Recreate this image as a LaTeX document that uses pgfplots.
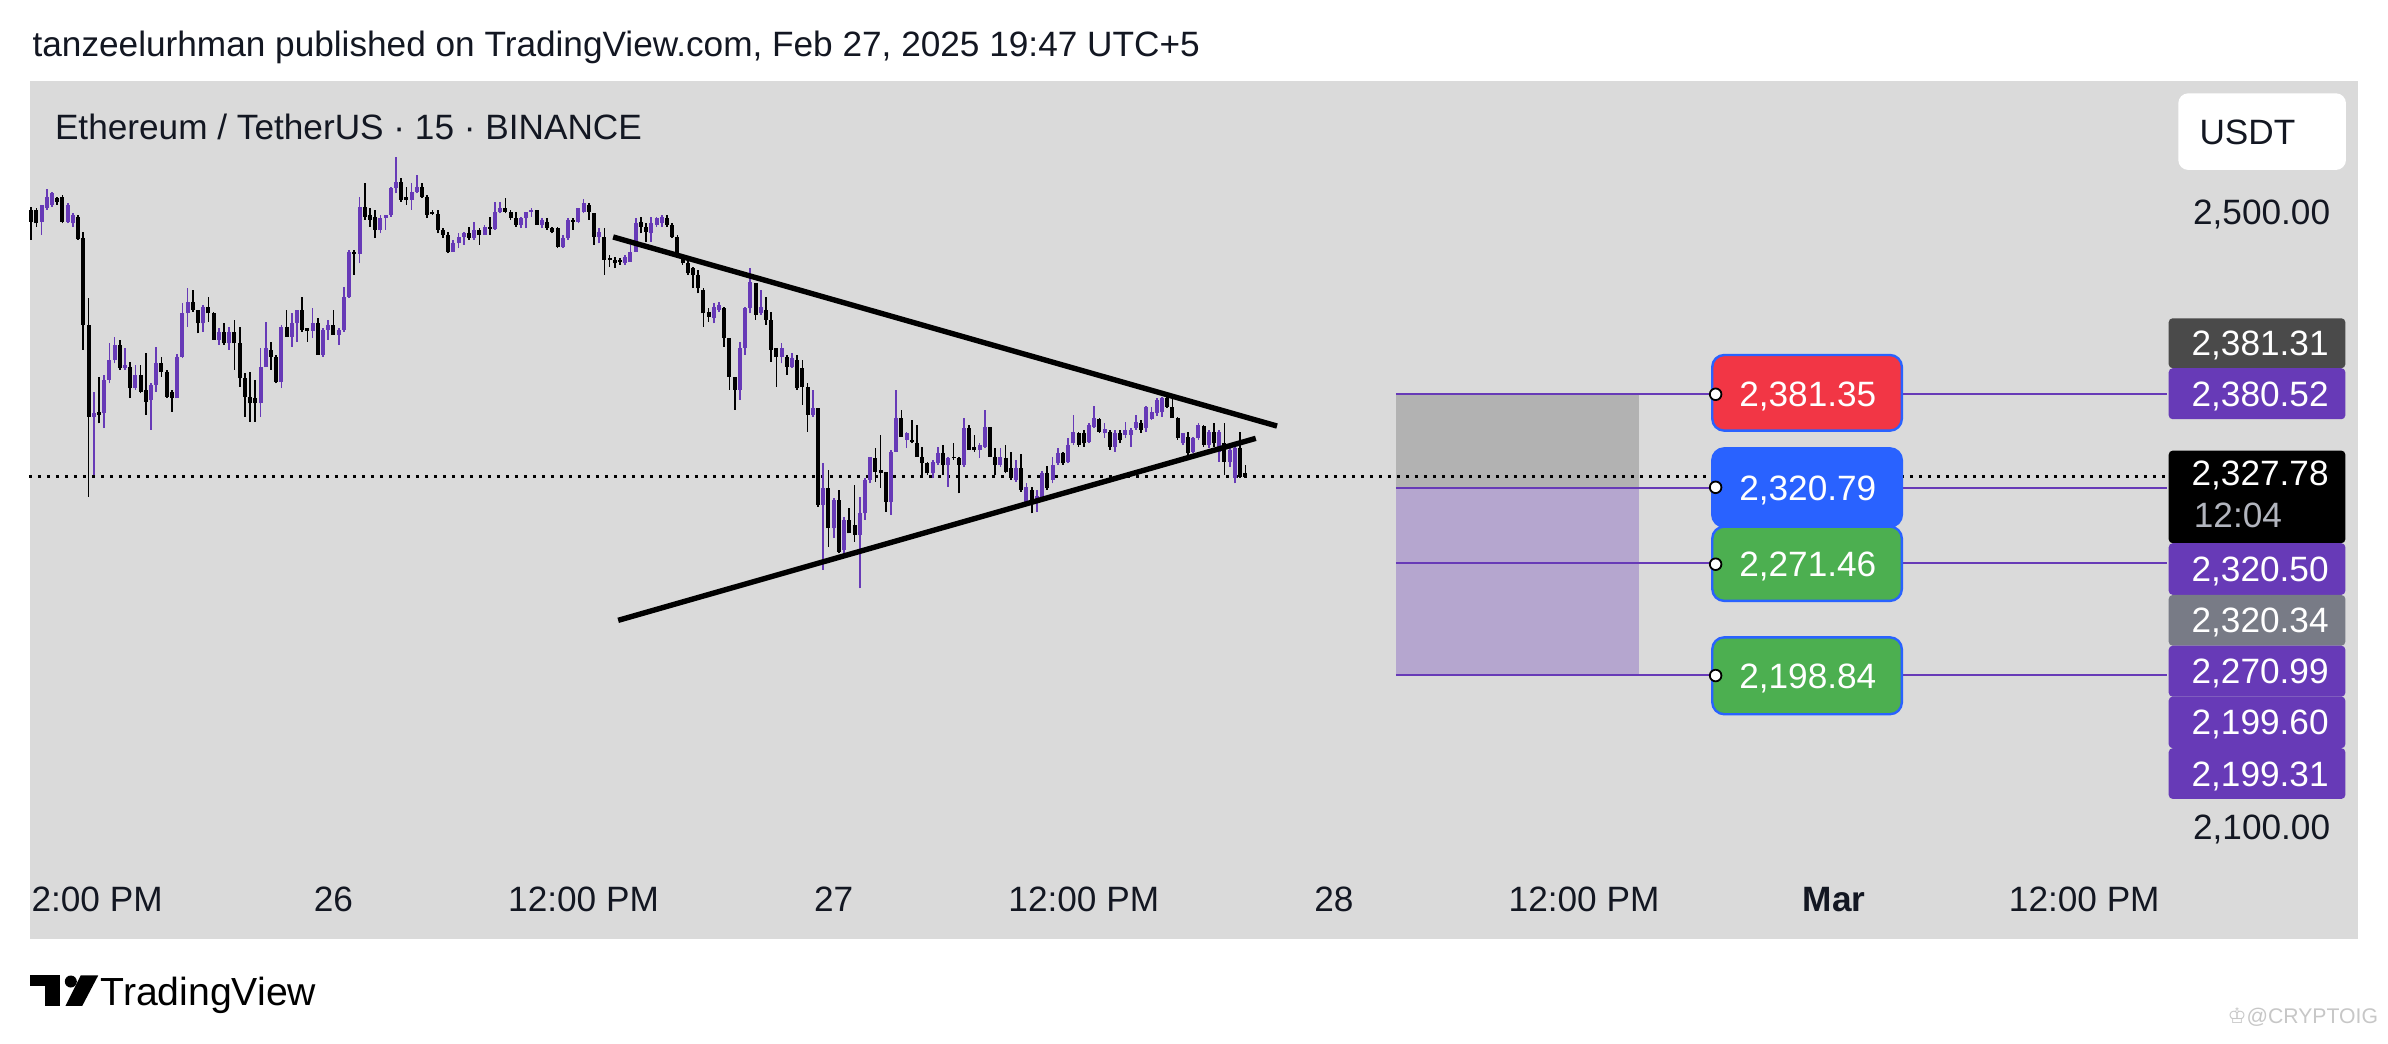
\documentclass[border=0pt]{standalone}
\usepackage{pgfplots}
\usepackage{pgfplotstable}
\pgfplotsset{compat=1.18}
\usepackage{fontspec}
\setmainfont{Liberation Sans}
\newfontfamily\symfont{DejaVu Sans}
\definecolor{panel}{HTML}{DADADA}
\definecolor{candp}{HTML}{673AB7}
\definecolor{tvtext}{HTML}{131722}
\definecolor{tvred}{HTML}{F23645}
\definecolor{tvblue}{HTML}{2962FF}
\definecolor{tvgreen}{HTML}{4CAF50}
\definecolor{rectgray}{HTML}{B2B2B2}
\definecolor{rectpurp}{HTML}{B5A6CF}
\definecolor{lblgray}{HTML}{4A4A4A}
\definecolor{lblgray2}{HTML}{787B86}
\definecolor{timegray}{HTML}{B2B5BE}
\newcommand\lf{\fontsize{8.8}{10}\selectfont}

% up (purple) candles: x = hours from Feb 26 00:00
\pgfplotstableread{
x o h l c
-14.0 2493.7 2504.5 2485.0 2504.5
-13.75 2502.4 2514.7 2501.3 2510.0
-13.5 2504.5 2513.2 2503.5 2512.1
-12.75 2493.7 2505.6 2492.6 2504.5
-12.5 2492.6 2499.1 2490.5 2498.0
-11.5 2366.9 2383.2 2329.0 2369.1
-11.0 2369.1 2394.0 2359.4 2390.8
-10.75 2390.8 2414.6 2388.6 2403.8
-10.5 2403.8 2418.9 2401.6 2413.5
-10.0 2398.4 2411.4 2397.3 2400.5
-9.5 2385.4 2400.5 2384.3 2394.0
-8.75 2377.8 2388.6 2358.3 2387.5
-8.5 2387.5 2412.4 2383.2 2401.6
-7.5 2378.9 2407.7 2378.9 2405.9
-7.25 2405.9 2440.6 2404.9 2434.1
-7.0 2434.1 2450.4 2425.4 2441.7
-6.25 2427.6 2439.5 2422.2 2438.5
-5.5 2416.8 2424.4 2413.5 2422.2
-5.0 2414.6 2425.4 2410.3 2422.2
-3.5 2375.6 2411.4 2366.9 2399.4
-3.25 2399.4 2428.7 2399.4 2411.4
-2.5 2389.7 2426.5 2385.4 2425.4
-2.0 2418.9 2434.1 2412.4 2427.6
-1.75 2427.6 2436.3 2415.7 2436.3
-1.0 2422.8 2437.4 2417.9 2427.6
-0.5 2407.0 2424.4 2405.9 2423.3
-0.25 2423.3 2429.8 2416.8 2426.5
0.25 2420.0 2424.4 2413.5 2423.3
0.5 2423.3 2451.5 2422.2 2445.0
0.75 2445.0 2475.3 2443.9 2474.2
1.25 2472.7 2510.0 2466.6 2503.5
2.25 2488.3 2498.0 2486.1 2495.9
2.5 2495.9 2498.0 2488.3 2498.0
2.75 2498.0 2516.5 2497.0 2515.4
3.0 2515.4 2536.0 2512.1 2519.7
3.75 2507.8 2518.6 2501.3 2513.2
4.0 2513.2 2524.0 2512.1 2516.5
5.75 2474.2 2481.8 2474.2 2479.6
6.0 2479.6 2486.1 2476.4 2484.0
6.25 2484.0 2487.2 2478.5 2486.1
6.75 2482.9 2493.7 2481.8 2488.3
7.25 2485.0 2491.5 2485.0 2490.0
7.75 2489.2 2506.7 2488.5 2500.2
8.0 2500.2 2506.7 2499.1 2502.4
9.0 2491.5 2497.0 2489.4 2495.9
9.25 2495.9 2500.2 2489.4 2500.2
9.5 2500.2 2502.4 2497.0 2501.3
10.0 2491.5 2495.9 2489.4 2494.8
11.0 2477.5 2485.0 2476.4 2482.9
11.25 2482.9 2495.9 2481.8 2494.8
11.75 2493.7 2502.4 2492.6 2502.4
12.0 2500.2 2508.2 2499.1 2505.6
12.75 2484.0 2489.4 2479.6 2487.2
14.0 2466.6 2472.0 2465.5 2471.0
14.25 2467.7 2478.5 2467.7 2474.2
14.5 2474.2 2495.9 2474.2 2492.6
15.25 2486.1 2497.0 2480.7 2492.6
15.5 2491.5 2497.0 2490.5 2495.9
15.75 2492.6 2498.0 2490.5 2497.0
18.25 2430.9 2440.6 2427.6 2438.5
18.5 2436.3 2441.7 2435.2 2439.5
19.5 2384.3 2415.7 2377.8 2411.4
19.75 2411.4 2438.5 2407.0 2437.4
20.0 2437.4 2463.4 2434.1 2454.7
20.5 2434.1 2449.3 2433.0 2438.5
21.5 2405.9 2414.6 2401.6 2411.4
22.0 2399.4 2408.1 2398.4 2404.9
23.0 2368.0 2384.3 2366.9 2372.4
23.5 2309.5 2336.6 2267.3 2320.4
24.0 2294.3 2313.9 2287.9 2312.8
24.5 2280.3 2301.9 2277.0 2299.8
25.25 2290.0 2314.9 2255.3 2304.1
25.5 2304.1 2326.8 2299.8 2325.8
25.75 2325.8 2340.9 2323.6 2340.9
26.75 2311.7 2345.3 2303.0 2344.2
27.0 2344.2 2384.3 2344.2 2365.9
27.5 2351.8 2357.2 2346.4 2356.1
28.75 2330.1 2338.8 2326.8 2337.7
29.0 2336.6 2347.4 2335.5 2343.1
29.5 2335.5 2340.9 2321.4 2339.9
30.25 2335.5 2365.9 2334.4 2359.4
31.0 2345.3 2349.6 2339.9 2348.5
31.25 2347.4 2371.3 2346.4 2360.4
32.0 2335.5 2346.4 2334.4 2340.9
32.75 2325.8 2338.8 2324.7 2333.4
33.25 2311.7 2323.6 2310.6 2321.5
33.75 2311.7 2319.3 2305.2 2315.0
34.0 2313.9 2331.9 2312.8 2330.1
34.5 2325.8 2341.0 2323.6 2335.5
34.75 2336.6 2346.4 2335.5 2343.1
35.25 2337.7 2352.9 2336.6 2348.5
35.5 2349.6 2368.0 2348.5 2357.2
36.25 2350.7 2362.6 2349.6 2361.5
36.5 2360.5 2373.9 2359.4 2365.9
37.0 2356.1 2362.6 2352.9 2358.7
37.5 2347.5 2358.3 2344.2 2356.1
38.0 2355.0 2363.7 2352.9 2358.3
38.25 2355.0 2359.4 2347.5 2358.3
38.5 2359.4 2368.0 2358.3 2363.7
39.0 2359.4 2373.9 2357.2 2373.5
39.25 2365.2 2373.5 2364.8 2370.2
39.5 2369.1 2378.9 2367.4 2377.8
39.75 2370.2 2380.0 2367.0 2378.9
40.75 2349.6 2356.1 2348.5 2356.1
41.25 2344.2 2354.0 2343.1 2352.9
41.5 2352.9 2362.6 2351.8 2361.5
42.0 2348.5 2358.3 2346.4 2357.2
42.5 2344.2 2358.3 2337.7 2357.2
43.0 2337.7 2346.4 2334.5 2345.3
43.25 2326.9 2347.5 2323.6 2346.4
}\uptab

% down (black) candles
\pgfplotstableread{
x o h l c
-14.5 2501.3 2503.5 2481.8 2493.7
-14.25 2501.3 2502.4 2490.5 2492.6
-13.25 2508.9 2510.0 2504.5 2506.7
-13.0 2510.0 2511.0 2492.6 2493.7
-12.25 2497.0 2498.0 2481.8 2482.2
-12.0 2482.9 2487.2 2410.3 2426.5
-11.75 2426.5 2443.9 2314.9 2366.9
-11.25 2370.2 2392.9 2362.6 2368.0
-10.25 2413.5 2416.8 2397.3 2398.4
-9.75 2399.4 2402.7 2378.9 2385.4
-9.25 2394.0 2400.5 2382.1 2383.2
-9.0 2384.3 2408.1 2368.0 2376.7
-8.25 2401.6 2405.9 2392.9 2396.2
-8.0 2396.2 2397.3 2378.9 2379.9
-7.75 2383.2 2384.3 2370.2 2378.9
-6.75 2441.7 2449.3 2435.2 2436.3
-6.5 2436.3 2436.3 2421.1 2427.6
-6.0 2438.5 2445.0 2428.7 2434.1
-5.75 2434.1 2435.2 2416.8 2416.8
-5.25 2422.2 2427.6 2413.5 2414.6
-4.75 2422.2 2429.8 2397.3 2414.6
-4.5 2414.6 2425.4 2386.4 2391.9
-4.25 2391.9 2395.1 2366.9 2379.9
-4.0 2379.9 2396.2 2363.7 2375.6
-3.75 2378.9 2390.8 2363.7 2375.6
-3.0 2410.3 2415.7 2397.3 2405.9
-2.75 2405.9 2407.0 2388.6 2389.7
-2.25 2425.4 2436.3 2418.9 2418.9
-1.5 2436.3 2445.0 2422.2 2423.3
-1.25 2424.4 2424.4 2415.7 2422.8
-0.75 2427.6 2430.9 2407.0 2407.0
0.0 2426.5 2436.3 2420.0 2420.0
1.0 2474.2 2475.3 2459.0 2472.7
1.5 2503.5 2518.6 2494.8 2497.0
1.75 2498.0 2502.4 2490.5 2494.8
2.0 2497.0 2501.3 2482.9 2488.3
3.25 2519.7 2521.9 2506.7 2507.8
3.5 2510.0 2516.5 2504.5 2507.8
4.25 2516.5 2518.6 2508.9 2510.0
4.5 2510.0 2511.0 2495.9 2498.0
4.75 2500.2 2501.3 2498.0 2498.7
5.0 2498.7 2501.3 2486.1 2488.3
5.25 2488.3 2489.4 2482.9 2485.0
5.5 2485.0 2487.2 2473.1 2474.2
6.5 2486.1 2490.5 2481.8 2482.9
7.0 2488.3 2489.4 2478.5 2485.0
7.5 2490.0 2497.0 2485.0 2489.2
8.25 2502.4 2508.9 2499.1 2500.2
8.5 2500.2 2501.3 2494.8 2495.9
8.75 2495.9 2500.2 2490.5 2491.5
9.75 2501.3 2501.3 2491.5 2491.5
10.25 2493.7 2495.9 2488.3 2489.4
10.5 2489.4 2490.5 2486.1 2487.2
10.75 2489.4 2490.5 2476.4 2477.5
11.5 2494.8 2495.9 2488.3 2493.7
12.25 2504.5 2505.6 2494.8 2500.2
12.5 2499.1 2499.1 2478.5 2484.0
13.0 2484.0 2489.4 2459.0 2468.8
13.25 2469.9 2472.0 2464.5 2468.8
13.5 2468.8 2471.0 2463.4 2466.6
13.75 2468.8 2469.9 2465.5 2467.7
14.75 2493.7 2497.0 2486.1 2490.5
15.0 2490.5 2492.6 2480.7 2487.2
16.0 2495.9 2498.0 2490.5 2491.5
16.25 2491.5 2492.6 2482.9 2484.0
16.5 2484.0 2485.0 2469.9 2471.0
16.75 2471.0 2472.0 2465.5 2466.6
17.0 2466.6 2468.8 2459.0 2460.1
17.25 2463.4 2464.5 2450.4 2459.0
17.5 2459.0 2462.3 2447.1 2450.4
17.75 2449.3 2450.4 2425.5 2434.1
18.0 2435.2 2437.4 2428.7 2432.0
18.75 2437.4 2438.5 2412.4 2417.9
19.0 2417.9 2417.9 2384.3 2392.9
19.25 2392.9 2392.9 2371.3 2384.3
20.25 2453.6 2453.6 2429.8 2433.0
20.75 2436.3 2445.0 2426.5 2429.8
21.0 2429.8 2435.2 2402.7 2410.3
21.25 2411.4 2411.4 2386.4 2405.9
21.75 2405.9 2407.0 2394.0 2399.4
22.25 2403.8 2407.0 2384.3 2385.4
22.5 2398.4 2403.8 2374.5 2386.4
22.75 2386.4 2388.6 2357.2 2368.0
23.25 2372.4 2372.4 2308.4 2309.5
23.75 2320.4 2332.3 2282.4 2294.3
24.25 2312.8 2319.3 2278.1 2279.2
24.75 2299.8 2307.4 2291.1 2291.1
25.0 2296.5 2322.5 2285.7 2290.0
26.0 2339.9 2346.4 2324.7 2331.2
26.25 2332.3 2355.0 2320.4 2330.1
26.5 2331.2 2331.2 2305.2 2311.7
27.25 2365.9 2371.3 2353.9 2353.9
27.75 2351.8 2364.8 2349.6 2350.7
28.0 2349.6 2361.5 2340.9 2340.9
28.25 2340.9 2347.4 2327.9 2336.6
28.5 2336.6 2337.7 2329.0 2330.1
29.25 2343.1 2348.5 2329.0 2335.5
29.75 2340.9 2349.6 2338.8 2339.9
30.0 2339.9 2340.9 2317.1 2335.5
30.5 2359.4 2361.5 2345.3 2345.3
30.75 2347.4 2355.0 2344.2 2345.3
31.5 2360.4 2360.4 2340.9 2340.9
31.75 2340.9 2346.4 2329.0 2335.5
32.25 2339.9 2348.5 2330.1 2331.2
32.5 2333.4 2344.2 2325.8 2326.9
33.0 2333.4 2342.7 2318.2 2319.3
33.5 2319.3 2321.0 2304.1 2310.6
34.25 2330.1 2334.9 2319.3 2320.4
35.0 2343.1 2344.2 2335.5 2336.6
35.75 2356.1 2357.2 2347.5 2348.5
36.0 2356.1 2358.3 2347.5 2349.6
36.75 2365.2 2365.9 2356.6 2357.2
37.25 2357.2 2358.3 2345.3 2347.5
37.75 2356.6 2358.3 2349.6 2351.8
38.75 2362.6 2364.8 2356.6 2358.3
40.0 2378.9 2381.0 2372.4 2373.5
40.25 2373.5 2378.9 2365.9 2365.9
40.5 2365.9 2367.0 2351.8 2352.9
41.0 2354.0 2357.2 2342.0 2343.1
41.75 2360.9 2361.5 2347.5 2348.5
42.25 2357.2 2363.1 2347.5 2349.6
42.75 2349.6 2363.1 2329.0 2337.7
43.5 2346.4 2357.2 2326.9 2328.0
43.75 2330.1 2335.5 2327.78 2327.78
}\dntab

\begin{document}
\begin{tikzpicture}
\useasboundingbox (0,0) rectangle (597pt,261pt);
\fill[white] (0,0) rectangle (597pt,261pt);
\begin{scope}[x=0.38074pt,y=-0.38074pt,shift={(0pt,261pt)}]
  \fill[panel] (19.5,53) rectangle (1548.4,616.5);
\end{scope}

\begin{axis}[
  at={(7.234pt,45.88pt)}, anchor=south west,
  scale only axis, width=534.56pt, height=194.94pt,
  xmin=-14.61, xmax=87.98, ymin=2078.4, ymax=2585.3,
  clip=false,
  axis line style={draw=none}, major tick length=0pt,
  xtick={0,12,24,36,48,60,72,84},
  xticklabels={26,12:00 PM,27,12:00 PM,28,12:00 PM,\textbf{Mar},12:00 PM},
  ytick={2100,2500},
  yticklabels={{2,100.00},{2,500.00}},
  yticklabel pos=right,
  tick label style={font=\lf, text=tvtext},
  xticklabel style={anchor=center, yshift=-9.52pt, text height=6.3pt, text depth=0pt},
  yticklabel style={anchor=center, xshift=23.6pt, text height=6.3pt, text depth=0pt},
  candle/.style={draw=none, mark=none, forget plot, error bars/.cd, y dir=plus, y explicit, error mark=none},
]
% position box (rectangle)
\addplot[fill=rectgray, draw=none, forget plot] coordinates {(50.97,2381.35) (62.63,2381.35) (62.63,2320.79) (50.97,2320.79)};
\addplot[fill=rectpurp, draw=none, forget plot] coordinates {(50.97,2320.79) (62.63,2320.79) (62.63,2198.84) (50.97,2198.84)};
% horizontal levels
\addplot[candp, line width=0.5pt, forget plot] coordinates {(50.97,2381.35) (87.98,2381.35)};
\addplot[candp, line width=0.5pt, forget plot] coordinates {(50.97,2320.79) (87.98,2320.79)};
\addplot[candp, line width=0.5pt, forget plot] coordinates {(50.97,2271.46) (87.98,2271.46)};
\addplot[candp, line width=0.5pt, forget plot] coordinates {(50.97,2198.84) (87.98,2198.84)};
% last price dotted line
\addplot[black, line width=0.67pt, dash pattern=on 0.67pt off 1.58pt, forget plot] coordinates {(-14.61,2327.78) (87.98,2327.78)};
% candles: wicks
\addplot[candle, error bar style={line width=0.42pt, draw=candp}]
  table[x=x, y=l, y error plus expr={\thisrow{h}-\thisrow{l}}] {\uptab};
\addplot[candle, error bar style={line width=0.42pt, draw=black}]
  table[x=x, y=l, y error plus expr={\thisrow{h}-\thisrow{l}}] {\dntab};
% candles: bodies
\addplot[candle, error bar style={line width=1.0pt, draw=candp}]
  table[x=x, y=o, y error plus expr={\thisrow{c}-\thisrow{o}}] {\uptab};
\addplot[candle, error bar style={line width=1.0pt, draw=black}]
  table[x=x, y=c, y error plus expr={\thisrow{o}-\thisrow{c}}] {\dntab};
% triangle trendlines
\addplot[black, line width=1.35pt, forget plot] coordinates {(13.42,2483.7) (45.27,2360.8)};
\addplot[black, line width=1.35pt, forget plot] coordinates {(13.66,2234.5) (44.25,2352.8)};
\end{axis}

\begin{scope}[x=0.38074pt,y=-0.38074pt,shift={(0pt,261pt)},
  lbl/.style={font=\lf, inner sep=0pt, text height=6.3pt, text depth=0pt}]
  % header texts
  \node[anchor=base west, inner sep=0pt, font=\lf, text=tvtext] at (20.9,37.2)
    {tanzeelurhman published on TradingView.com, Feb 27, 2025 19:47 UTC+5};
  \node[anchor=base west, inner sep=0pt, font=\lf, text=tvtext] at (35.6,91.5)
    {Ethereum / TetherUS · 15 · BINANCE};
  \node[lbl, anchor=west, text=tvtext] at (20.2,590) {2:00 PM};
  % USDT box
  \fill[white, rounded corners=2.5pt] (1430.3,61.3) rectangle (1540.4,111.6);
  \node[lbl, anchor=west, text=tvtext] at (1443.7,86.5) {USDT};
  % middle order labels
  \draw[tvblue, line width=0.6pt, fill=tvred, rounded corners=3pt] (1124.3,233.1) rectangle (1248.8,282.8);
  \node[lbl, white] at (1187,258.5) {2,381.35};
  \draw[tvblue, line width=0.6pt, fill=tvblue, rounded corners=3pt] (1124.3,294.4) rectangle (1248.8,345.8);
  \node[lbl, white] at (1187,320.1) {2,320.79};
  \draw[tvblue, line width=0.6pt, fill=tvgreen, rounded corners=3pt] (1124.3,345.8) rectangle (1248.8,394.6);
  \node[lbl, white] at (1187,370.2) {2,271.46};
  \draw[tvblue, line width=0.6pt, fill=tvgreen, rounded corners=3pt] (1124.3,418.5) rectangle (1248.8,469.0);
  \node[lbl, white] at (1187,443.7) {2,198.84};
  \foreach \yy in {258.9,320.0,370.5,443.6}
    \draw[black, fill=white, line width=0.45pt] (1126.5,\yy) circle[radius=1.45pt];
  % right price scale labels
  \fill[lblgray, rounded corners=1pt] (1424,209.0) rectangle (1540,241.8);
  \node[lbl, white] at (1484,225.4) {2,381.31};
  \fill[candp, rounded corners=1pt] (1424,241.8) rectangle (1540,275.3);
  \node[lbl, white] at (1484,258.5) {2,380.52};
  \fill[black, rounded corners=1pt] (1424,295.9) rectangle (1540,356.7);
  \node[lbl, white] at (1484,310.8) {2,327.78};
  \node[lbl, anchor=west, text=timegray] at (1440,338.1) {12:04};
  \fill[candp, rounded corners=1pt] (1424,356.7) rectangle (1540,390.6);
  \node[lbl, white] at (1484,373.6) {2,320.50};
  \fill[lblgray2, rounded corners=1pt] (1424,390.7) rectangle (1540,424.0);
  \node[lbl, white] at (1484,407.3) {2,320.34};
  \fill[candp, rounded corners=1pt] (1424,424.0) rectangle (1540,457.5);
  \node[lbl, white] at (1484,440.7) {2,270.99};
  \fill[candp, rounded corners=1pt] (1424,457.4) rectangle (1540,491.3);
  \node[lbl, white] at (1484,474.3) {2,199.60};
  \fill[candp, rounded corners=1pt] (1424,491.3) rectangle (1540,524.6);
  \node[lbl, white] at (1484,508.0) {2,199.31};
  % TradingView logo
  \fill[black] (19.9,640.5) rectangle (39.5,647.5);
  \fill[black] (29.5,640.5) rectangle (39.5,660.5);
  \fill[black] (46.5,644.5) circle[radius=1.5pt];
  \fill[black] (53,640.5) -- (64.5,640.5) -- (54,660.5) -- (43,660.5) -- cycle;
  \node[anchor=base west, inner sep=0pt, font=\fontsize{9.8}{11}\selectfont, text=black] at (65.5,660.5) {TradingView};
  % watermark
  \node[anchor=east, inner sep=0pt, font=\fontsize{5.3}{6}\selectfont, text=black!22] at (1562,668)
    {{\symfont ♔}@CRYPTOIG};
\end{scope}
\end{tikzpicture}
\end{document}
